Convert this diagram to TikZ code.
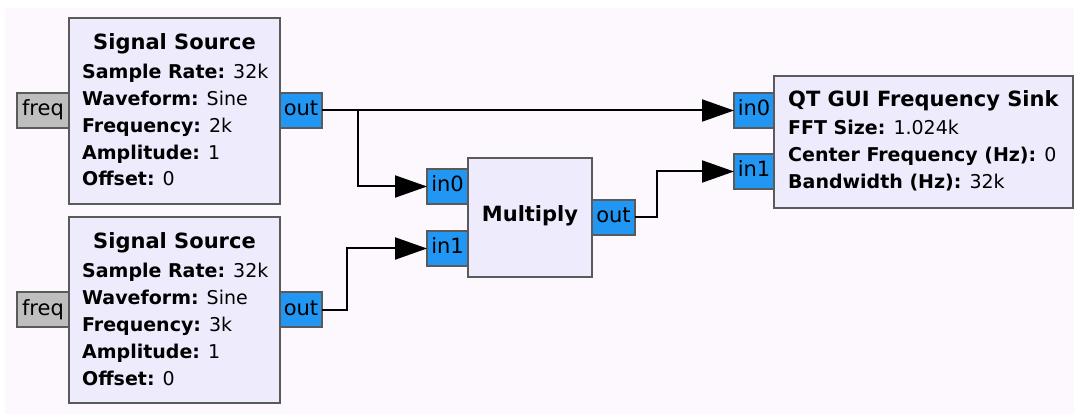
\documentclass[tikz,border=0pt]{standalone}
\usepackage{fontspec}
\setmainfont{DejaVu Sans}
\usetikzlibrary{arrows.meta}
\definecolor{bgpink}{RGB}{253,248,253}
\definecolor{blockfill}{RGB}{238,236,252}
\definecolor{blockdraw}{RGB}{90,90,90}
\definecolor{portblue}{RGB}{33,150,243}
\definecolor{portgrey}{RGB}{190,190,190}
\tikzset{
  block/.style={draw=blockdraw, fill=blockfill, line width=1.5pt, anchor=north west, inner sep=0pt, outer sep=0pt},
  port/.style={draw=blockdraw, line width=1.5pt, anchor=north west, inner sep=0pt, outer sep=0pt, minimum height=35pt,
    font=\fontsize{21}{24}\selectfont, text height=15pt, text depth=4pt},
  bport/.style={port, fill=portblue},
  gport/.style={port, fill=portgrey},
  title/.style={font=\fontsize{21}{24}\selectfont\bfseries, inner sep=0pt, anchor=base},
  param/.style={font=\fontsize{19}{22}\selectfont, inner sep=0pt, anchor=base west},
  wire/.style={line width=2pt, black},
  arr/.style={wire, -{Triangle[length=32pt, width=22pt]}},
}
\begin{document}
\begin{tikzpicture}[x=1pt, y=-1pt]
\useasboundingbox (0,0) rectangle (1074,414);
\fill[white] (0,0) rectangle (1074,414);
\fill[bgpink] (5,8) rectangle (1074,414);

% Signal Source 1
\node[gport, minimum width=52pt] (freq1) at (17,93) {freq};
\node[bport, minimum width=42pt] (out1) at (280,93) {out};
\node[block, minimum width=211pt, minimum height=186pt] (src1) at (69,18) {};
\node[title] (src1t) at (174.5,50) {Signal Source};
\node[param] (src1a) at (82,79) {\textbf{Sample Rate:} 32k};
\node[param] (src1b) at (82,105.75) {\textbf{Waveform:} Sine};
\node[param] (src1c) at (82,132.5) {\textbf{Frequency:} 2k};
\node[param] (src1d) at (82,159.25) {\textbf{Amplitude:} 1};
\node[param] (src1e) at (82,186) {\textbf{Offset:} 0};

% Signal Source 2
\node[gport, minimum width=52pt] (freq2) at (17,292) {freq};
\node[bport, minimum width=42pt] (out2) at (280,292) {out};
\node[block, minimum width=211pt, minimum height=186pt] (src2) at (69,217) {};
\node[title] (src2t) at (174.5,249) {Signal Source};
\node[param] (src2a) at (82,278) {\textbf{Sample Rate:} 32k};
\node[param] (src2b) at (82,304.75) {\textbf{Waveform:} Sine};
\node[param] (src2c) at (82,331.5) {\textbf{Frequency:} 3k};
\node[param] (src2d) at (82,358.25) {\textbf{Amplitude:} 1};
\node[param] (src2e) at (82,385) {\textbf{Offset:} 0};

% Multiply
\node[bport, minimum width=41pt] (min0) at (427,169) {in0};
\node[bport, minimum width=41pt] (min1) at (427,231) {in1};
\node[bport, minimum width=43pt] (mout) at (592,200) {out};
\node[block, minimum width=124pt, minimum height=119pt] (mult) at (468,158) {};
\node[title] (multt) at (530,222) {Multiply};

% QT GUI Frequency Sink
\node[bport, minimum width=40pt] (sin0) at (734,93) {in0};
\node[bport, minimum width=40pt] (sin1) at (734,154) {in1};
\node[block, minimum width=299pt, minimum height=132pt] (sink) at (774,76) {};
\node[title, anchor=base west] (sinkt) at (788,107) {QT GUI Frequency Sink};
\node[param] (sinka) at (788,135) {\textbf{FFT Size:} 1.024k};
\node[param] (sinkb) at (788,162) {\textbf{Center Frequency (Hz):} 0};
\node[param] (sinkc) at (788,189) {\textbf{Bandwidth (Hz):} 32k};

% connectors
\coordinate (j1) at (358,0);
\coordinate (j2) at (347,0);
\coordinate (j3) at (657,0);
\draw[arr] (out1.east) -- (sin0.west);
\draw[arr] (out1.east -| j1) |- (min0.west);
\draw[arr] (out2.east) -- (out2.east -| j2) |- (min1.west);
\draw[arr] (mout.east) -- (mout.east -| j3) |- (sin1.west);
\end{tikzpicture}
\end{document}
